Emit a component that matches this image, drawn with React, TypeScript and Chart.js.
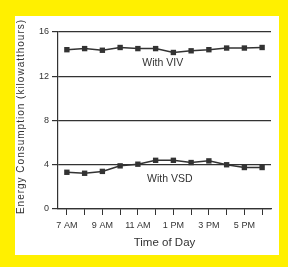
import React, { useEffect, useRef } from "react";
import { Chart, registerables } from "chart.js";

Chart.register(...registerables);

const categories = ["7 AM", "8 AM", "9 AM", "10 AM", "11 AM", "12 PM", "1 PM", "2 PM", "3 PM", "4 PM", "5 PM", "6 PM"];
const withVIV = [14.4, 14.5, 14.35, 14.6, 14.5, 14.5, 14.15, 14.3, 14.4, 14.55, 14.55, 14.6];
const withVSD = [3.32, 3.23, 3.4, 3.9, 4.05, 4.4, 4.4, 4.2, 4.35, 4.0, 3.75, 3.75];
const yTicks = [0, 4, 8, 12, 16];
const seriesLabels = ["With VIV", "With VSD"];
const labelPos = [
  { x: 5.4, y: 13.15 },
  { x: 5.8, y: 2.67 },
];
const yTitle = "Energy Consumption (kilowatthours)";
const xTitle = "Time of Day";

const INK = "#333333";
const FONT = "'Liberation Sans', Arial, sans-serif";

const labelPlugin = {
  id: "seriesLabels",
  afterDatasetsDraw(chart: any) {
    const { ctx, scales, chartArea } = chart;
    ctx.save();
    ctx.fillStyle = INK;
    ctx.font = `10.5px ${FONT}`;
    ctx.textAlign = "center";
    ctx.textBaseline = "middle";
    seriesLabels.forEach((t, i) => {
      ctx.fillText(t, scales.x.getPixelForValue(labelPos[i].x), scales.y.getPixelForValue(labelPos[i].y));
    });
    // y-axis title (letter-spaced)
    ctx.translate(6.5, (chartArea.top + chartArea.bottom) / 2 - 4);
    ctx.rotate(-Math.PI / 2);
    ctx.font = `10px ${FONT}`;
    (ctx as any).letterSpacing = "1px";
    ctx.fillText(yTitle, 0, 0);
    ctx.restore();
  },
};

export default function App() {
  const ref = useRef<HTMLCanvasElement>(null);
  useEffect(() => {
    document.body.style.margin = "0";
    const ds = (label: string, data: number[]) => ({
      label,
      data,
      borderColor: INK,
      backgroundColor: INK,
      borderWidth: 1.5,
      pointStyle: "rect" as const,
      pointRadius: 3.8,
      pointBorderWidth: 0,
      tension: 0,
    });
    const chart = new Chart(ref.current!, {
      type: "line",
      data: { labels: categories, datasets: [ds(seriesLabels[0], withVIV), ds(seriesLabels[1], withVSD)] },
      options: {
        animation: false,
        responsive: true,
        maintainAspectRatio: false,
        layout: { padding: { top: 16, right: 8, left: 0, bottom: 0 } },
        plugins: { legend: { display: false }, tooltip: { enabled: false } },
        scales: {
          x: {
            type: "category",
            offset: true,
            grid: { display: true, drawOnChartArea: false, drawTicks: true, tickLength: 6, color: INK, lineWidth: 1 },
            border: { display: true, color: INK, width: 1.2 },
            ticks: {
              autoSkip: false,
              maxRotation: 0,
              color: INK,
              font: { family: FONT, size: 9 },
              padding: 5,
              callback: (_v: any, i: number) => (i % 2 === 0 ? categories[i] : ""),
            },
            title: { display: true, text: xTitle, color: INK, font: { family: FONT, size: 11.5 }, padding: { top: 0, bottom: 5 } },
            afterFit: (s: any) => { s.height = 46; },
          },
          y: {
            type: "linear",
            min: 0,
            max: 16,
            afterBuildTicks: (s: any) => { s.ticks = yTicks.map((v) => ({ value: v })); },
            grid: { color: INK, lineWidth: 1.2, tickLength: 6 },
            border: { display: true, color: INK, width: 1.2 },
            ticks: { color: INK, font: { family: FONT, size: 9 }, padding: 3 },
            title: { display: false },
            afterFit: (s: any) => { s.width = 43; },
          },
        },
      },
      plugins: [labelPlugin],
    });
    return () => chart.destroy();
  }, []);
  return (
    <div style={{ position: "fixed", left: 0, top: 0, width: 288, height: 267, background: "#FFF000" }}>
      <div style={{ position: "absolute", left: 15, top: 16, width: 264, height: 239, background: "#ffffff" }}>
        <canvas ref={ref} />
      </div>
    </div>
  );
}
